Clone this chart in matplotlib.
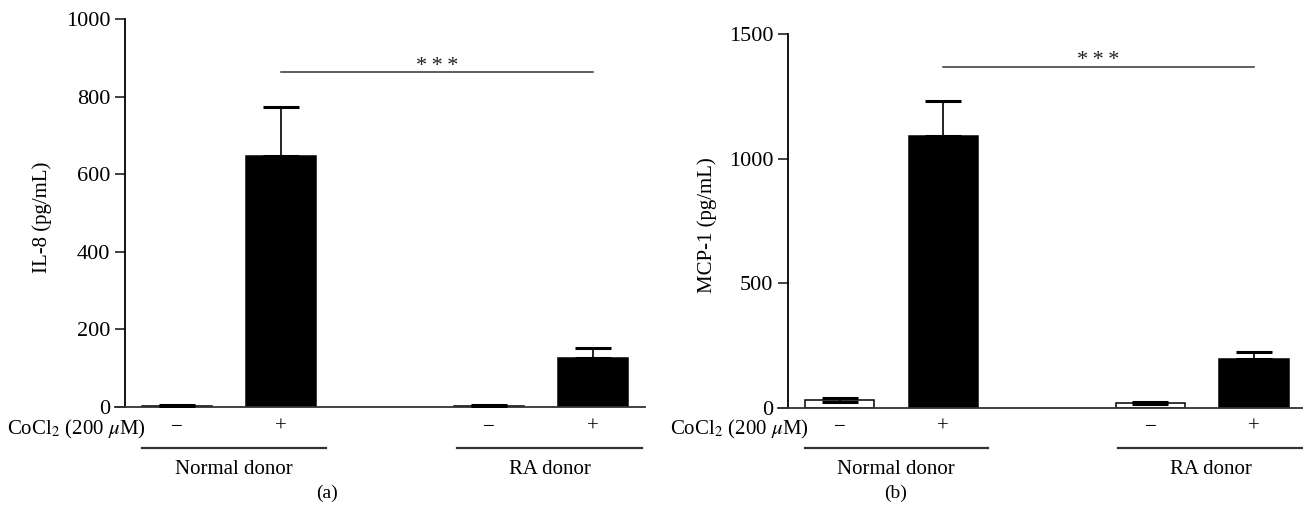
import numpy as np
import matplotlib
matplotlib.use("Agg")
import matplotlib.pyplot as plt
import matplotlib.transforms as mtransforms

plt.rcParams.update({
    "font.family": ["Liberation Serif", "DejaVu Serif"],
    "mathtext.fontset": "stix",
    "font.size": 15,
    "axes.linewidth": 1.3,
    "axes.edgecolor": "#333333",
    "ytick.color": "#333333",
    "ytick.labelcolor": "black",
    "ytick.major.size": 7.2,
    "ytick.major.width": 1.3,
    "ytick.major.pad": 3.5,
    "ytick.labelsize": 16,
    "axes.labelsize": 15,
})

# bar order: normal -, normal +, RA -, RA +
positions = [0, 1, 3, 4]
treatment = ["\u2212", "+", "\u2212", "+"]
faces = ["white", "black", "white", "black"]
groups = ["Normal donor", "RA donor"]

il8 = [3, 648, 3, 126]
il8_err = [1.5, 124, 1.5, 27]

mcp1 = [33, 1092, 21, 195]
mcp1_err = [7, 139, 4, 30]

W, H = 1303, 517
fig = plt.figure(figsize=(W / 100, H / 100), dpi=100)

ax_a = fig.add_axes([0.08795, 0.2128, 0.4071, 0.7505])
ax_b = fig.add_axes([0.5968, 0.2108, 0.4053, 0.7234])


def py(p):
    # pixel row from top -> figure fraction
    return 1 - p / H


def panel(ax, vals, errs, ylim, yticks, ylabel, sig_y, star_off):
    for x, v, e, fc in zip(positions, vals, errs, faces):
        ax.bar(x, v, width=0.67, color=fc, edgecolor="black", linewidth=1.1, zorder=2)
        ax.errorbar(x, v, yerr=[[e if fc == "white" else 0], [e]], fmt="none",
                    ecolor="black", elinewidth=1.2, capsize=13, capthick=2.2, zorder=3)
    ax.set_xlim(-0.6, 4.5)
    ax.set_ylim(*ylim)
    ax.set_yticks(yticks)
    ax.set_xticks([])
    ax.spines["top"].set_visible(False)
    ax.spines["right"].set_visible(False)
    ax.spines["left"].set_position(("data", -0.5))
    ax.spines["left"].set_color("black")
    ax.set_ylabel(ylabel)

    # significance bar
    ax.plot([1, 4], [sig_y, sig_y], color="#333333", lw=1.1, clip_on=False)
    ax.text(2.5, sig_y + star_off, "*\u2009*\u2009*", ha="center", va="baseline",
            fontsize=16, color="#222222")

    tr = mtransforms.blended_transform_factory(ax.transData, fig.transFigure)
    ax.text(-0.3, py(429), r"CoCl$_2$ (200 $\mu$M)", transform=tr,
            ha="right", va="center")
    for x, t in zip(positions, treatment):
        ax.text(x, py(427), t, transform=tr, ha="center", va="center")
    for (x0, x1, xc), g in zip([(-0.34, 1.43, 0.545), (2.69, 4.47, 3.585)], groups):
        ax.plot([x0, x1], [py(448), py(448)], transform=tr, color="#333333",
                lw=1.6, clip_on=False)
        ax.text(xc, py(470), g, transform=tr, ha="center", va="center")


panel(ax_a, il8, il8_err, (0, 1000), [0, 200, 400, 600, 800, 1000],
      "IL-8 (pg/mL)", 863, 4)
ax_a.yaxis.set_label_coords(-0.118, 0.49)
panel(ax_b, mcp1, mcp1_err, (0, 1500), [0, 500, 1000, 1500],
      "MCP-1 (pg/mL)", 1368, 6)
ax_b.yaxis.set_label_coords(-0.115, 0.49)

fig.text(327 / W, py(493), "(a)", ha="center", va="center", fontsize=14)
fig.text(896 / W, py(493), "(b)", ha="center", va="center", fontsize=14)

fig.savefig("out.png", dpi=100)
